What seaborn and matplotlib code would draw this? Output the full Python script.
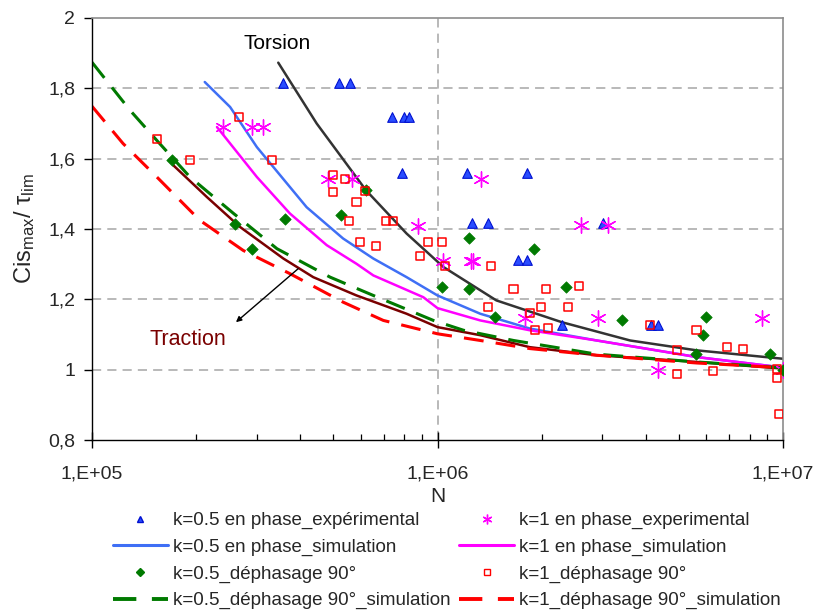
import matplotlib
matplotlib.use("Agg")
import matplotlib.pyplot as plt
import seaborn as sns
from matplotlib.lines import Line2D
from matplotlib.ticker import FixedLocator, NullFormatter, LogLocator

# ---------------- data ----------------
# k=0.5 en phase, experimental (triangles)
tri_N = [3.56e5, 5.20e5, 5.58e5, 7.40e5, 8.01e5, 8.28e5, 7.87e5, 1.22e6, 1.82e6,
         1.26e6, 1.40e6, 3.01e6, 1.71e6, 1.82e6, 2.29e6, 4.14e6, 4.36e6]
tri_v = [1.815, 1.815, 1.815, 1.718, 1.718, 1.718, 1.559, 1.559, 1.559,
         1.418, 1.418, 1.418, 1.311, 1.311, 1.128, 1.128, 1.128]

# k=1 en phase, experimental (asterisks)
ast_N = [2.40e5, 2.91e5, 3.13e5, 4.81e5, 5.67e5, 8.77e5, 1.34e6, 2.61e6, 3.12e6,
         1.04e6, 1.25e6, 1.27e6, 1.79e6, 2.91e6, 4.34e6, 8.67e6, 1.0e7]
ast_v = [1.69, 1.69, 1.69, 1.543, 1.543, 1.408, 1.543, 1.41, 1.41,
         1.309, 1.309, 1.309, 1.147, 1.147, 1.0, 1.147, 1.0]

# k=0.5 dephasage 90, experimental (diamonds)
dia_N = [1.70e5, 2.59e5, 2.91e5, 3.61e5, 5.26e5, 6.21e5, 1.23e6, 1.90e6, 1.03e6,
         1.23e6, 2.35e6, 1.47e6, 3.43e6, 5.98e6, 5.85e6, 5.60e6, 9.16e6, 1.0e7]
dia_v = [1.597, 1.415, 1.343, 1.429, 1.441, 1.510, 1.375, 1.342, 1.235,
         1.228, 1.235, 1.150, 1.140, 1.150, 1.098, 1.044, 1.044, 1.0]

# k=1 dephasage 90, experimental (open squares)
sq_N = [1.54e5, 1.92e5, 2.67e5, 3.31e5, 4.98e5, 5.40e5, 4.98e5, 6.17e5, 5.83e5,
        5.55e5, 7.10e5, 7.45e5, 5.97e5, 6.64e5, 9.37e5, 1.03e6, 8.89e5, 1.05e6,
        1.43e6, 1.66e6, 2.06e6, 2.57e6, 1.40e6, 1.99e6, 2.38e6, 1.85e6, 1.92e6,
        2.09e6, 4.12e6, 5.62e6, 4.94e6, 6.87e6, 7.67e6, 4.94e6, 6.28e6, 9.6e6,
        9.6e6, 9.75e6]
sq_v = [1.657, 1.597, 1.718, 1.597, 1.553, 1.543, 1.505, 1.507, 1.477,
        1.422, 1.422, 1.422, 1.363, 1.352, 1.363, 1.363, 1.322, 1.294,
        1.294, 1.230, 1.230, 1.238, 1.178, 1.178, 1.178, 1.161, 1.112,
        1.119, 1.128, 1.112, 1.057, 1.064, 1.058, 0.987, 0.995, 1.003,
        0.976, 0.873]

# simulations
blue_N = [2.12e5, 2.51e5, 3.00e5, 4.18e5, 5.33e5, 6.52e5, 8.14e5, 1.0e6, 1.33e6,
          1.85e6, 2.89e6, 5.62e6, 9.8e6]
blue_v = [1.818, 1.747, 1.633, 1.462, 1.373, 1.316, 1.263, 1.211, 1.159,
          1.117, 1.083, 1.036, 1.007]

mag_N = [2.30e5, 3.00e5, 3.74e5, 4.78e5, 5.83e5, 6.52e5, 9.1e5, 1.0e6, 1.33e6,
         1.85e6, 2.89e6, 5.62e6, 1.0e7]
mag_v = [1.690, 1.548, 1.444, 1.354, 1.301, 1.268, 1.206, 1.175, 1.140,
         1.112, 1.083, 1.036, 1.006]

gdash_N = [1.0e5, 1.29e5, 1.54e5, 1.92e5, 2.57e5, 3.43e5, 4.89e5, 6.52e5, 9.73e5,
           1.19e6, 1.66e6, 2.89e6, 5.62e6, 9.8e6]
gdash_v = [1.874, 1.737, 1.652, 1.548, 1.444, 1.344, 1.263, 1.211, 1.140,
           1.112, 1.083, 1.044, 1.022, 1.006]

rdash_N = [1.0e5, 1.23e5, 1.54e5, 2.05e5, 2.74e5, 3.74e5, 5.33e5, 6.97e5, 1.0e6,
           1.33e6, 1.85e6, 2.89e6, 5.62e6, 9.8e6]
rdash_v = [1.749, 1.643, 1.548, 1.425, 1.339, 1.273, 1.192, 1.140, 1.102,
           1.083, 1.060, 1.041, 1.019, 1.006]

torsion_N = [3.46e5, 4.47e5, 6.21e5, 8.14e5, 1.04e6, 1.48e6, 2.29e6, 3.61e6,
             5.62e6, 1.0e7]
torsion_v = [1.873, 1.700, 1.510, 1.387, 1.292, 1.197, 1.135, 1.083, 1.055, 1.031]

traction_N = [1.72e5, 2.15e5, 2.68e5, 3.58e5, 4.37e5, 5.83e5, 8.14e5, 1.0e6,
              1.33e6, 1.85e6, 2.89e6, 5.62e6, 1.0e7]
traction_v = [1.581, 1.491, 1.406, 1.316, 1.263, 1.211, 1.159, 1.121, 1.098,
              1.064, 1.041, 1.022, 1.003]

y_ticks = [0.8, 1.0, 1.2, 1.4, 1.6, 1.8, 2.0]
y_ticklabels = ["0,8", "1", "1,2", "1,4", "1,6", "1,8", "2"]
x_ticks = [1e5, 1e6, 1e7]
x_ticklabels = ["1,E+05", "1,E+06", "1,E+07"]

labels = ["k=0.5 en phase_expérimental", "k=0.5 en phase_simulation",
          "k=0.5_déphasage 90°", "k=0.5_déphasage 90°_simulation",
          "k=1 en phase_experimental", "k=1 en phase_simulation",
          "k=1_déphasage 90°", "k=1_déphasage 90°_simulation"]

# ---------------- style ----------------
sns.set_theme(style="white")
plt.rcParams['font.family'] = ['Liberation Sans', 'DejaVu Sans']
plt.rcParams['mathtext.fontset'] = 'custom'
plt.rcParams['mathtext.rm'] = 'Liberation Sans'
plt.rcParams['mathtext.it'] = 'Liberation Sans'
plt.rcParams['mathtext.bf'] = 'Liberation Sans'

C_BLUE_LINE = "#3f6ff5"
C_TRI_FACE = "#2a4dff"
C_TRI_EDGE = "#0010d0"
C_MAG = "#ff00ff"
C_GREEN = "#007a00"
C_RED = "#ff0000"
C_MAROON = "#7a0000"
C_BLACK = "#333333"
DASH = (0, (6.5, 4))

fig = plt.figure(figsize=(8.16, 6.12), dpi=100)
L, R, T, B = 92, 783, 18, 440
ax = fig.add_axes([L / 816, 1 - B / 612, (R - L) / 816, (B - T) / 612])
ax.set_xscale("log")
ax.set_xlim(1e5, 1e7)
ax.set_ylim(0.8, 2.0)

# grid
for yv in y_ticks[1:-1]:
    ax.axhline(yv, color="#a6a6a6", lw=1.1, ls=(0, (6, 4)), zorder=0)
ax.axvline(1e6, color="#a6a6a6", lw=1.1, ls=(0, (6, 4)), zorder=0)

# lines
common = dict(ax=ax, estimator=None, sort=False, legend=False)
sns.lineplot(x=torsion_N, y=torsion_v, color=C_BLACK, lw=1.8, **common)
sns.lineplot(x=traction_N, y=traction_v, color=C_MAROON, lw=1.8, **common)
sns.lineplot(x=blue_N, y=blue_v, color=C_BLUE_LINE, lw=1.8, **common)
sns.lineplot(x=mag_N, y=mag_v, color=C_MAG, lw=1.8, **common)
sns.lineplot(x=gdash_N, y=gdash_v, color=C_GREEN, lw=2.2, linestyle=DASH, **common)
sns.lineplot(x=rdash_N, y=rdash_v, color=C_RED, lw=2.2, linestyle=DASH, **common)

# markers
sns.scatterplot(x=tri_N, y=tri_v, marker="^", s=48, color=C_TRI_FACE,
                edgecolor=C_TRI_EDGE, linewidth=0.8, ax=ax, zorder=5, legend=False)
sns.scatterplot(x=ast_N, y=ast_v, marker=(6, 2, 0), s=120, color=C_MAG,
                edgecolor=None, linewidth=1.0, ax=ax, zorder=5, legend=False)
sns.scatterplot(x=dia_N, y=dia_v, marker="D", s=34, color=C_GREEN,
                edgecolor=C_GREEN, linewidth=0.5, ax=ax, zorder=5, legend=False)
sns.scatterplot(x=sq_N, y=sq_v, marker="s", s=34, color=C_RED, facecolor="none",
                edgecolor=C_RED, linewidth=1.1, ax=ax, zorder=5, legend=False)

# annotations
ax.text(3.43e5, 1.928, "Torsion", fontsize=15, color="black", ha="center", va="center")
ax.text(1.90e5, 1.086, "Traction", fontsize=15.5, color=C_MAROON, ha="center", va="center")
ax.annotate("", xy=(2.61e5, 1.135), xytext=(3.95e5, 1.287),
            arrowprops=dict(arrowstyle="-|>", color="black", lw=1.0,
                            mutation_scale=8, shrinkA=0, shrinkB=0))

# axes styling
for side in ["top", "right"]:
    ax.spines[side].set_color("#8c8c8c")
    ax.spines[side].set_linewidth(1.2)
for side in ["left", "bottom"]:
    ax.spines[side].set_color("black")
    ax.spines[side].set_linewidth(1.0)

ax.yaxis.set_major_locator(FixedLocator(y_ticks))
ax.set_yticklabels(y_ticklabels)
ax.xaxis.set_major_locator(FixedLocator(x_ticks))
ax.set_xticklabels(x_ticklabels)
ax.xaxis.set_minor_locator(LogLocator(base=10, subs=range(2, 10)))
ax.xaxis.set_minor_formatter(NullFormatter())
ax.tick_params(axis="y", which="major", direction="out", length=6, width=1,
               color="black", labelsize=14, pad=6, left=True)
ax.tick_params(axis="x", which="major", direction="inout", length=11, width=1,
               color="black", labelsize=14, pad=13, bottom=True)
ax.tick_params(axis="x", which="minor", direction="in", length=4, width=0.9,
               color="black", bottom=True)

ax.set_xlabel("N", fontsize=15, labelpad=3)
ax.set_ylabel(r"$\mathrm{Cis}_{\mathrm{max}}/\ \tau_{\mathrm{lim}}$", fontsize=17, labelpad=8)

# legend
handles = [
    Line2D([], [], ls="none", marker="^", ms=4.5, markerfacecolor=C_TRI_FACE,
           markeredgecolor=C_TRI_EDGE),
    Line2D([], [], color=C_BLUE_LINE, lw=2.2),
    Line2D([], [], ls="none", marker="D", ms=4.5, color=C_GREEN),
    Line2D([], [], color=C_GREEN, lw=2.8, ls=(0, (6, 4))),
    Line2D([], [], ls="none", marker=(6, 2, 0), ms=7, color=C_MAG, mew=1),
    Line2D([], [], color=C_MAG, lw=2.2),
    Line2D([], [], ls="none", marker="s", ms=4.5, markerfacecolor="none",
           markeredgecolor=C_RED, mew=1),
    Line2D([], [], color=C_RED, lw=2.8, ls=(0, (6, 4))),
]
fig.legend(handles, labels, ncol=2, loc="upper left",
           bbox_to_anchor=(113 / 816, 1 - 512 / 612), bbox_transform=fig.transFigure,
           frameon=False, borderpad=0, borderaxespad=0, fontsize=13.5,
           handlelength=2.93, handletextpad=0.27, columnspacing=0.45,
           labelspacing=0.5)

fig.savefig("out.png", dpi=100)
